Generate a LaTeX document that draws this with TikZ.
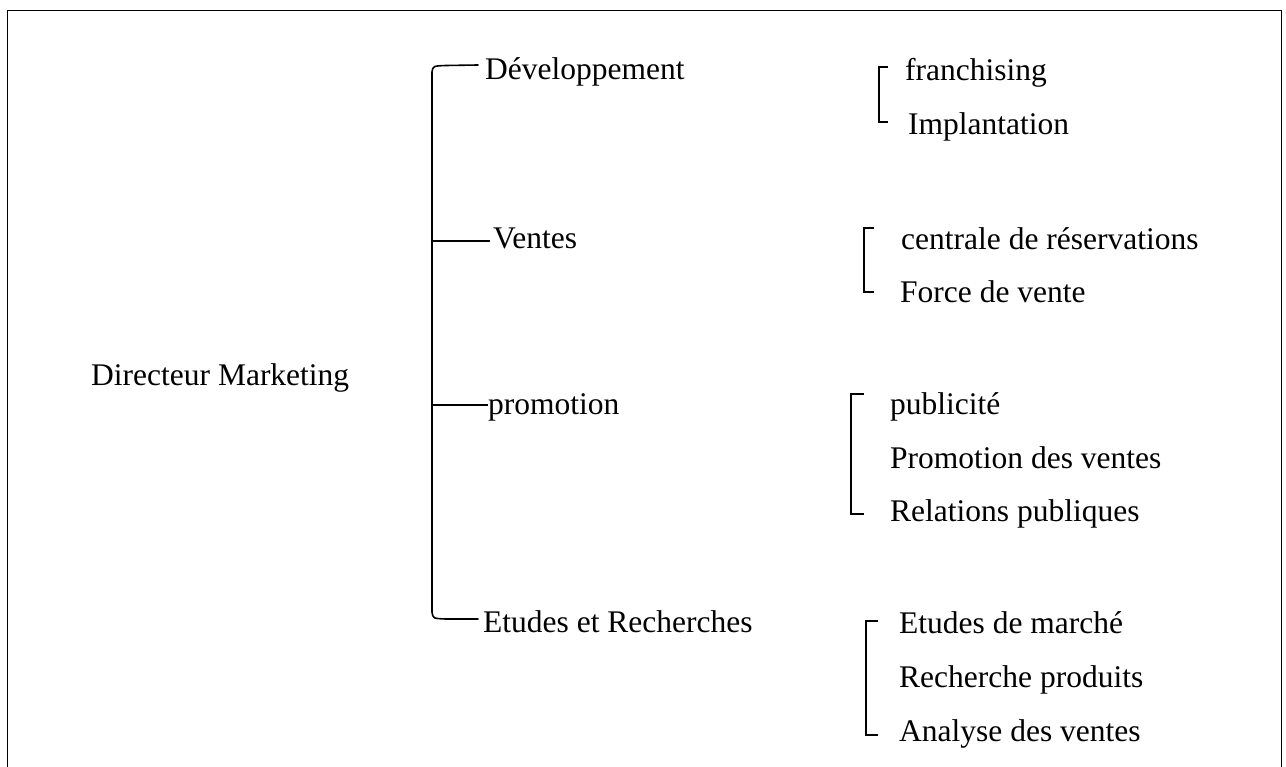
\documentclass[tikz,border=0pt]{standalone}
\usepackage{fontspec}
\setmainfont{Liberation Serif}
\begin{document}
\begin{tikzpicture}[x=1pt,y=-1pt,
  lbl/.style={anchor=base west,inner sep=0pt,font=\fontsize{31.5}{36}\selectfont},
  spine/.style={line width=1.6pt,line cap=round},
  tick/.style={line width=1.3pt},
  brk/.style={line width=1.2pt},
  frame/.style={line width=1pt}]
\useasboundingbox (0,0) rectangle (1286,767);
% open frame (no bottom edge)
\draw[frame] (7.5,767) -- (7.5,11) -- (1281,11) -- (1281,767);

% head of the chart
\node[lbl] (dir) at (91,385) {Directeur Marketing};

% departments
\node[lbl] (dev) at (485,80)  {Développement};
\node[lbl] (ven) at (493,249) {Ventes};
\node[lbl] (pro) at (488,415) {promotion};
\node[lbl] (etu) at (483,632) {Etudes et Recherches};

% spine of the tree
\coordinate (sTop) at (432,72);
\coordinate (sBot) at (432,612);
\coordinate (sV) at (432,241);
\coordinate (sP) at (432,405);
\coordinate (eD) at (478,65);
\coordinate (eE) at (478,619);
\coordinate (eV) at (490,241);
\coordinate (eP) at (488,405);
\draw[spine] (eD) -- (446,65.5) .. controls (433,66) .. (sTop) -- (sBot)
  .. controls (433,618.5) .. (446,619) -- (eE);
\draw[tick] (sV) -- (eV);
\draw[tick] (sP) -- (eP);

% sub-units of Développement
\node[lbl] (fra) at (905,81)  {franchising};
\node[lbl] (imp) at (908,135) {Implantation};
\draw[brk] (888,67) -- (879,67) -- (879,122) -- (888,122);

% sub-units of Ventes
\node[lbl] (cen) at (901,250) {centrale de réservations};
\node[lbl] (for) at (900,303) {Force de vente};
\draw[brk] (874,228) -- (864,228) -- (864,292) -- (874,292);

% sub-units of promotion
\node[lbl] (pub) at (890,414) {publicité};
\node[lbl] (pdv) at (890,468) {Promotion des ventes};
\node[lbl] (rel) at (890,521) {Relations publiques};
\draw[brk] (864,394) -- (851,394) -- (851,514) -- (864,514);

% sub-units of Etudes et Recherches
\node[lbl] (mar) at (899,633) {Etudes de marché};
\node[lbl] (rep) at (899,687) {Recherche produits};
\node[lbl] (ana) at (899,741) {Analyse des ventes};
\draw[brk] (878,621) -- (866,621) -- (866,735) -- (878,735);
\end{tikzpicture}
\end{document}
